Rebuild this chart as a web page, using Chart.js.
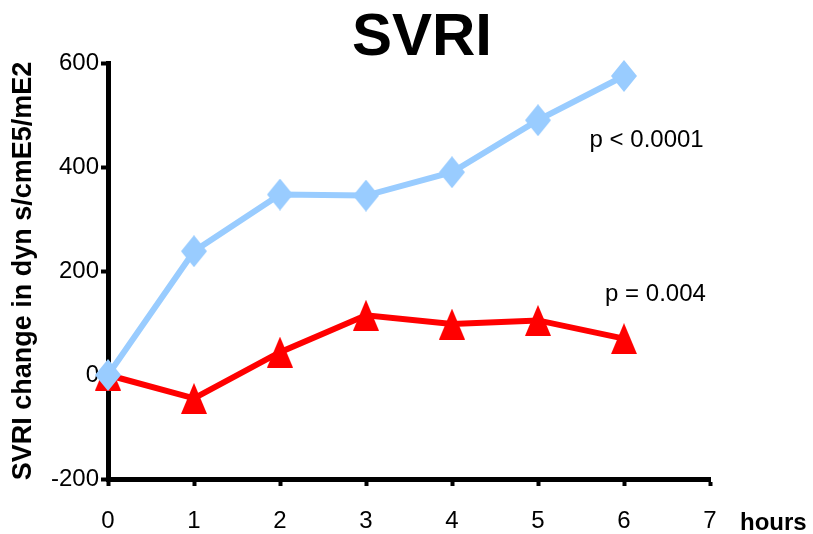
<!DOCTYPE html>
<html>
<head>
<meta charset="utf-8">
<script src="https://cdn.jsdelivr.net/npm/chart.js@4/dist/chart.umd.min.js"></script>
<style>
  html, body { margin: 0; padding: 0; background: #fff; }
  canvas { display: block; }
</style>
</head>
<body>
<canvas id="svriChart" width="813" height="534"></canvas>
<script>
// Chart data
const hours = [0, 1, 2, 3, 4, 5, 6];
const seriesBlue = [0, 238, 347, 345, 390, 490, 575];
const seriesRed = [0, -45, 44, 115, 98, 105, 70];
const xTicks = [0, 1, 2, 3, 4, 5, 6, 7];
const yTicks = [-200, 0, 200, 400, 600];
const pLabels = ['p < 0.0001', 'p = 0.004'];
const pAnchorX = [5.6, 5.78];
const pAnchorY = [451, 155];

const FONT = '"Liberation Sans", Arial, sans-serif';
const blue = '#99CCFF';
const red = '#FF0000';

// Marker shapes drawn on small canvases
function makeDiamond(w, h, color) {
  const c = document.createElement('canvas');
  c.width = w; c.height = h;
  const g = c.getContext('2d');
  g.fillStyle = color;
  g.beginPath();
  g.moveTo(w / 2, 0);
  g.lineTo(w, h / 2);
  g.lineTo(w / 2, h);
  g.lineTo(0, h / 2);
  g.closePath();
  g.fill();
  return c;
}

function makeTriangle(w, h, color) {
  const c = document.createElement('canvas');
  c.width = w; c.height = h;
  const g = c.getContext('2d');
  g.fillStyle = color;
  g.beginPath();
  g.moveTo(w / 2, 0);
  g.lineTo(w, h);
  g.lineTo(0, h);
  g.closePath();
  g.fill();
  return c;
}

// Title, p-values and the "hours" label
const textPlugin = {
  id: 'textPlugin',
  afterDraw(chart) {
    const ctx = chart.ctx;
    const xs = chart.scales.x;
    const ys = chart.scales.y;
    ctx.save();
    ctx.fillStyle = '#000';
    ctx.textBaseline = 'middle';

    ctx.font = 'bold 60px ' + FONT;
    ctx.textAlign = 'center';
    ctx.fillText('SVRI', 422, 38);

    ctx.font = '24px ' + FONT;
    ctx.textAlign = 'left';
    pLabels.forEach((txt, i) => {
      ctx.fillText(txt, xs.getPixelForValue(pAnchorX[i]), ys.getPixelForValue(pAnchorY[i]));
    });

    ctx.font = 'bold 24px ' + FONT;
    ctx.fillText('hours', 740, 523);
    ctx.restore();
  }
};

const ctx = document.getElementById('svriChart').getContext('2d');
new Chart(ctx, {
  type: 'line',
  data: {
    datasets: [
      {
        label: 'Blue',
        data: hours.map((h, i) => ({ x: h, y: seriesBlue[i] })),
        borderColor: blue,
        backgroundColor: blue,
        borderWidth: 6,
        pointStyle: makeDiamond(26, 32, blue),
        clip: false,
        tension: 0
      },
      {
        label: 'Red',
        data: hours.map((h, i) => ({ x: h, y: seriesRed[i] })),
        borderColor: red,
        backgroundColor: red,
        borderWidth: 6,
        pointStyle: makeTriangle(26, 31, red),
        clip: false,
        tension: 0
      }
    ]
  },
  options: {
    responsive: false,
    animation: false,
    layout: {
      padding: { top: 63, right: 103, bottom: 0, left: 0 }
    },
    scales: {
      x: {
        type: 'linear',
        min: 0,
        max: 7,
        afterFit: (s) => { s.height = 55; },
        afterBuildTicks: (s) => { s.ticks = xTicks.map(v => ({ value: v })); },
        grid: {
          display: true,
          drawOnChartArea: false,
          tickLength: 7,
          tickWidth: 4,
          tickColor: '#000'
        },
        border: { display: true, color: '#000', width: 5 },
        ticks: {
          color: '#000',
          font: { family: FONT, size: 24 },
          padding: 21
        }
      },
      y: {
        min: -200,
        max: 600,
        afterFit: (s) => { s.width = 108; },
        afterBuildTicks: (s) => { s.ticks = yTicks.map(v => ({ value: v })); },
        grid: {
          display: true,
          drawOnChartArea: false,
          tickLength: 7,
          tickWidth: 4,
          tickColor: '#000'
        },
        border: { display: true, color: '#000', width: 5 },
        ticks: {
          color: '#000',
          font: { family: FONT, size: 24 },
          padding: 2
        },
        title: {
          display: true,
          text: 'SVRI change in dyn s/cmE5/mE2',
          color: '#000',
          font: { family: FONT, size: 27, weight: 'bold' },
          padding: { top: 7, bottom: 0 }
        }
      }
    },
    plugins: {
      legend: { display: false },
      tooltip: { enabled: false }
    }
  },
  plugins: [textPlugin]
});
</script>
</body>
</html>
